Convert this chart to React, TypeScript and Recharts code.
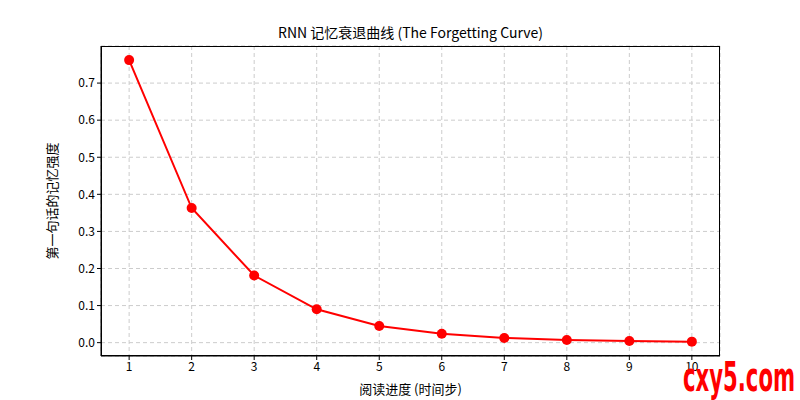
import { LineChart, Line, XAxis, YAxis, CartesianGrid, Label } from 'recharts';

const steps = [1, 2, 3, 4, 5, 6, 7, 8, 9, 10];
const memory = [0.762, 0.363, 0.181, 0.09, 0.045, 0.024, 0.0127, 0.0073, 0.0046, 0.0027];
const xTicks = [1, 2, 3, 4, 5, 6, 7, 8, 9, 10];
const yTicks = [0, 0.1, 0.2, 0.3, 0.4, 0.5, 0.6, 0.7];

const title = 'RNN 记忆衰退曲线 (The Forgetting Curve)';
const xLabel = '阅读进度 (时间步)';
const yLabel = '第一句话的记忆强度';
const watermark = 'cxy5.com';

const font = '"Noto Sans CJK SC", "DejaVu Sans", sans-serif';

const data = steps.map((s, i) => ({ step: s, value: memory[i] }));

const App = () => {
  return (
    <div style={{ position: 'absolute', left: 0, top: 0, width: 800, height: 400, background: '#fff', fontFamily: font }}>
      <div style={{ position: 'absolute', left: 101, width: 619, top: 22, textAlign: 'center', fontSize: 14, color: '#000' }}>
        {title}
      </div>
      <LineChart width={800} height={400} data={data} margin={{ top: 46, right: 80, bottom: 0, left: 0 }}>
        <CartesianGrid stroke="#cccccc" strokeDasharray="4 3" />
        <XAxis
          dataKey="step"
          type="number"
          domain={[0.55, 10.45]}
          ticks={xTicks}
          height={44}
          tickSize={4}
          stroke="#000"
          tick={{ fill: '#000', fontSize: 12, fontFamily: font }}
          allowDataOverflow
        >
          <Label value={xLabel} position="insideBottom" offset={6} style={{ fill: '#000', fontSize: 13, fontFamily: font }} />
        </XAxis>
        <YAxis
          type="number"
          domain={[-0.036, 0.8]}
          ticks={yTicks}
          width={101}
          tickSize={4}
          stroke="#000"
          tickFormatter={(v: number) => v.toFixed(1)}
          tick={{ fill: '#000', fontSize: 12, fontFamily: font }}
          allowDataOverflow
        >
          <Label value={yLabel} angle={-90} position="insideLeft" offset={52} style={{ fill: '#000', fontSize: 13, fontFamily: font, textAnchor: 'middle' }} />
        </YAxis>
        <Line
          type="linear"
          dataKey="value"
          stroke="#ff0000"
          strokeWidth={2}
          dot={{ r: 5, fill: '#ff0000', stroke: '#ff0000', strokeWidth: 0 }}
          isAnimationActive={false}
        />
      </LineChart>
      {/* axes frame */}
      <div style={{ position: 'absolute', left: 101, top: 46, width: 619, height: 310, boxSizing: 'border-box', border: '1px solid #000', pointerEvents: 'none' }} />
      <div
        style={{
          position: 'absolute',
          left: 683,
          top: 357,
          fontSize: 40,
          lineHeight: '40px',
          fontWeight: 'bold',
          color: '#ff0000',
          fontFamily: '"DejaVu Sans", sans-serif',
          transform: 'scaleX(0.53)',
          transformOrigin: 'left top',
          whiteSpace: 'nowrap',
        }}
      >
        {watermark}
      </div>
    </div>
  );
};

export default App;
